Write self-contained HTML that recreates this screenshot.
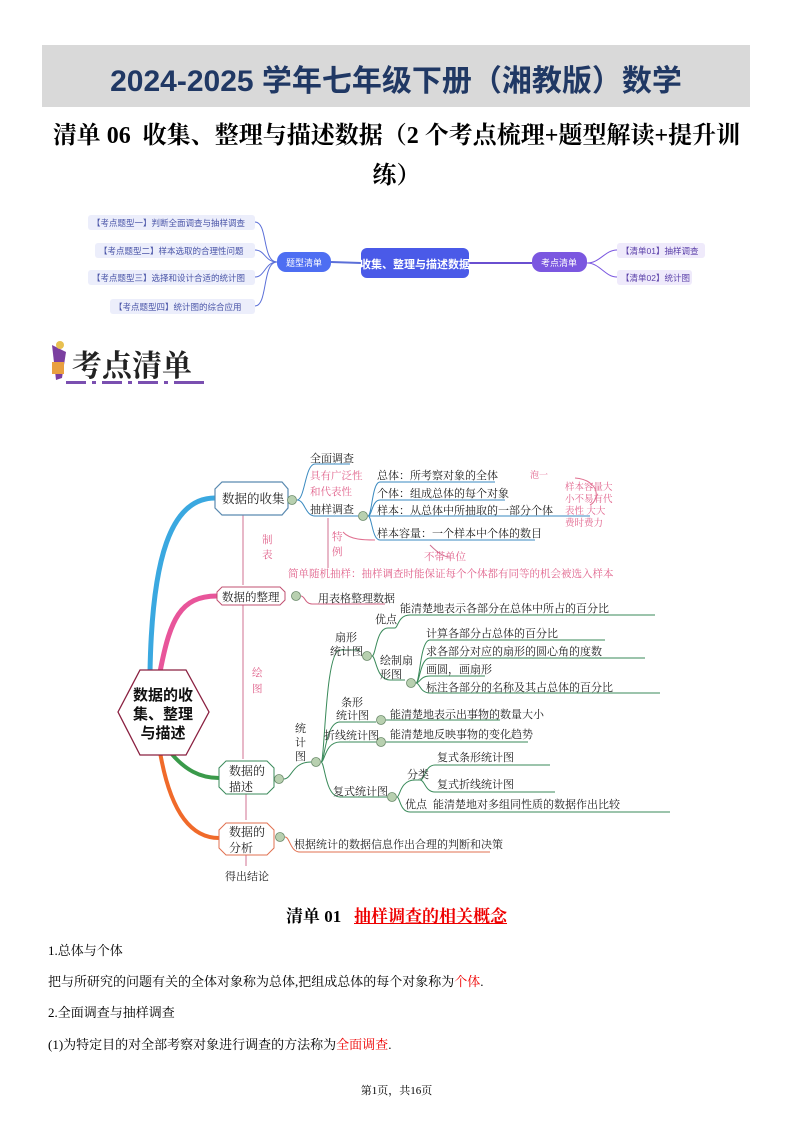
<!DOCTYPE html>
<html><head><meta charset="utf-8"><style>
body{margin:0;background:#fff;}
.pg{position:relative;width:793px;height:1122px;overflow:hidden;font-family:"Liberation Serif","Noto Serif CJK SC",serif;}
.a{position:absolute;white-space:nowrap;}
</style></head><body><div class="pg">
<div class="a" style="left:42px;top:45px;width:708px;height:62px;background:#d9d9d9;"></div>
<div class="a" style="left:42px;top:56px;width:708px;text-align:center;font:bold 30px 'Liberation Sans','Noto Sans CJK SC',sans-serif;color:#203864;">2024-2025 学年七年级下册（湘教版）数学</div>
<div class="a" style="left:0px;top:115px;width:793px;text-align:center;font:bold 24px 'Liberation Serif','Noto Serif CJK SC',serif;color:#000;">清单 06&nbsp; 收集、整理与描述数据（2 个考点梳理+题型解读+提升训</div>
<div class="a" style="left:0px;top:155px;width:793px;text-align:center;font:bold 24px 'Liberation Serif','Noto Serif CJK SC',serif;color:#000;">练）</div>

<svg class="a" style="left:0;top:0" width="793" height="1122" font-family="'Liberation Sans','Noto Sans CJK SC',sans-serif">
<g fill="none" stroke="#5b6fd8" stroke-width="1">
<path d="M255 222 C268 222,262 262,277 262"/><path d="M255 250 C265 250,265 262,277 262"/><path d="M255 277 C265 277,265 262,277 262"/><path d="M255 306 C268 306,262 262,277 262"/>
<path d="M331 262 L361 263" stroke-width="2"/>
<path d="M469 263 L532 263" stroke="#6a4fd0" stroke-width="2"/>
<path d="M587 263 C600 263,605 250,617 250" stroke="#7b57e0"/><path d="M587 263 C600 263,605 277,617 277" stroke="#7b57e0"/>
</g>
<g fill="#eceefb"><rect x="88" y="215" width="167" height="15" rx="3"/><rect x="95" y="243" width="160" height="15" rx="3"/><rect x="88" y="270" width="167" height="15" rx="3"/><rect x="110" y="299" width="145" height="15" rx="3"/>
<rect x="617" y="243" width="88" height="15" rx="3" fill="#efeafb"/><rect x="617" y="270" width="75" height="15" rx="3" fill="#efeafb"/></g>
<g font-size="8.5" fill="#4a55a8"><text x="92" y="226">【考点题型一】判断全面调查与抽样调查</text><text x="99" y="254">【考点题型二】样本选取的合理性问题</text><text x="92" y="281">【考点题型三】选择和设计合适的统计图</text><text x="114" y="310">【考点题型四】统计图的综合应用</text>
<text x="621" y="254" fill="#5a3fa8">【清单01】抽样调查</text><text x="621" y="281" fill="#5a3fa8">【清单02】统计图</text></g>
<rect x="277" y="252" width="54" height="20" rx="9" fill="#4e6ef2"/><text x="304" y="266" font-size="9" fill="#fff" text-anchor="middle">题型清单</text>
<rect x="361" y="248" width="108" height="30" rx="6" fill="#4a5ae8"/><text x="415" y="268" font-size="11" font-weight="bold" fill="#fff" text-anchor="middle">收集、整理与描述数据</text>
<rect x="532" y="252" width="55" height="20" rx="9" fill="#7b57e0"/><text x="559" y="266" font-size="9" fill="#fff" text-anchor="middle">考点清单</text>

<path d="M52 345 L66 352 L62 378 L56 380 Z" fill="#7b3fa0"/><circle cx="60" cy="345" r="4" fill="#e8c050"/><rect x="52" y="362" width="12" height="12" fill="#e9a040"/>
<text x="72" y="376" font-size="30" font-weight="bold" fill="#222" font-family="'Noto Serif CJK SC',serif">考点清单</text>
<g fill="#7a4fb0"><rect x="66" y="381" width="20" height="3"/><rect x="92" y="381" width="4" height="3"/><rect x="102" y="381" width="20" height="3"/><rect x="128" y="381" width="4" height="3"/><rect x="138" y="381" width="20" height="3"/><rect x="164" y="381" width="4" height="3"/><rect x="174" y="381" width="30" height="3"/></g>

<g fill="none">
<path d="M150 672 C152 560,170 498,215 498" stroke="#3aa8e0" stroke-width="5"/>
<path d="M160 672 C170 620,180 596,217 596" stroke="#e8559a" stroke-width="5"/>
<path d="M170 752 C185 770,200 778,219 778" stroke="#3a9a4a" stroke-width="4"/>
<path d="M160 752 C170 810,190 838,219 838" stroke="#f06a2a" stroke-width="4"/>
<g stroke="#d07090" stroke-width="1"><path d="M243 515 L243 585"/><path d="M243 605 L243 759"/><path d="M246 794 L246 820"/><path d="M246 855 L246 866"/><path d="M328 518 L328 568"/></g>
<g stroke="#3a8ac0" stroke-width="1"><path d="M297 500 C305 500,305 464,315 464 L350 464"/><path d="M297 500 C305 500,305 516,315 516 L358 516"/>
<path d="M368 516 C372 516,372 482,380 482 L495 482"/><path d="M368 516 C372 516,372 500,380 500 L505 500"/><path d="M368 516 L590 516"/><path d="M368 516 C372 516,372 540,380 540 L535 540"/></g>
<path d="M301 596 C305 596,305 604,312 604 L385 604" stroke="#d06080"/>
<g stroke="#3a8a5a" stroke-width="1">
<path d="M284 779 C292 779,292 762,311 762"/>
<path d="M321 762 C325 762,325 650,340 650 L360 650"/><path d="M321 762 C325 762,325 722,340 722 L376 722"/><path d="M321 762 C325 762,325 742,340 742 L376 742"/><path d="M321 762 C325 762,325 797,340 797 L387 797"/>
<path d="M372 656 C376 656,376 628,388 628 L395 628 C398 628,398 615,410 615 L655 615"/>
<path d="M372 656 C376 656,376 680,390 680 L405 680"/>
<path d="M416 683 C420 683,420 640,430 640 L605 640"/><path d="M416 683 C420 683,420 658,430 658 L645 658"/><path d="M416 683 C420 683,420 676,430 676 L485 676"/><path d="M416 683 C420 683,420 693,430 693 L660 693"/>
<path d="M386 720 L500 720"/><path d="M386 742 L528 742"/>
<path d="M397 797 C400 797,400 780,415 780 L420 780 C425 780,425 765,435 765 L550 765"/><path d="M420 780 C425 780,425 792,435 792 L555 792"/>
<path d="M397 797 C400 797,400 812,410 812 L670 812"/></g>
<path d="M285 837 C290 837,290 852,300 852 L490 852" stroke="#e07050"/>
<path d="M590 505 C600 500,600 480,575 478" stroke="#e07090"/><path d="M343 532 C350 540,365 540,375 540" stroke="#e07090"/><path d="M430 545 C440 555,445 557,450 557" stroke="#d07090"/>
</g>
<path d="M222 482 L282 482 L288 489 L288 508 L282 515 L222 515 L215 508 L215 489 Z" fill="#fff" stroke="#5a8ab0" stroke-width="1.2"/>
<path d="M222 587 L280 587 L285 592 L285 600 L280 605 L222 605 L217 600 L217 592 Z" fill="#fff" stroke="#c05070"/>
<path d="M226 761 L267 761 L274 768 L274 787 L267 794 L226 794 L219 787 L219 768 Z" fill="#fff" stroke="#3a8a5a"/>
<path d="M226 823 L267 823 L274 830 L274 848 L267 855 L226 855 L219 848 L219 830 Z" fill="#fff" stroke="#e07050"/>
<path d="M140 670 L186 670 L209 712 L186 755 L140 755 L118 712 Z" fill="#fff" stroke="#8a2040" stroke-width="1.3"/>
<g font-size="15" font-weight="bold" fill="#111" text-anchor="middle"><text x="163" y="700">数据的收</text><text x="163" y="719">集、整理</text><text x="163" y="738">与描述</text></g>
<g fill="#b8d0b0" stroke="#6a8a6a" stroke-width="0.8"><circle cx="292" cy="500" r="4.5"/><circle cx="363" cy="516" r="4.5"/><circle cx="296" cy="596" r="4.5"/><circle cx="367" cy="656" r="4.5"/><circle cx="411" cy="683" r="4.5"/><circle cx="381" cy="720" r="4.5"/><circle cx="381" cy="742" r="4.5"/><circle cx="316" cy="762" r="4.5"/><circle cx="279" cy="779" r="4.5"/><circle cx="392" cy="797" r="4.5"/><circle cx="280" cy="837" r="4.5"/></g>
<g font-family="'Noto Serif CJK SC',serif" font-size="11" fill="#222">
<text x="222" y="503" font-size="12.5">数据的收集</text><text x="222" y="601" font-size="11.5">数据的整理</text>
<text x="229" y="775" font-size="12">数据的</text><text x="229" y="791" font-size="12">描述</text><text x="229" y="836" font-size="12">数据的</text><text x="229" y="852" font-size="12">分析</text>
<text x="310" y="462">全面调查</text><text x="310" y="513">抽样调查</text>
<text x="377" y="479">总体：所考察对象的全体</text><text x="377" y="497">个体：组成总体的每个对象</text><text x="377" y="514">样本：从总体中所抽取的一部分个体</text><text x="377" y="537">样本容量：一个样本中个体的数目</text>
<text x="318" y="602">用表格整理数据</text>
<text x="375" y="623">优点</text><text x="400" y="612">能清楚地表示各部分在总体中所占的百分比</text>
<text x="335" y="641">扇形</text><text x="330" y="655">统计图</text>
<text x="426" y="637">计算各部分占总体的百分比</text><text x="426" y="655">求各部分对应的扇形的圆心角的度数</text><text x="426" y="673">画圆，画扇形</text><text x="426" y="691">标注各部分的名称及其占总体的百分比</text>
<text x="380" y="664">绘制扇</text><text x="380" y="678">形图</text>
<text x="341" y="706">条形</text><text x="336" y="719">统计图</text><text x="390" y="718">能清楚地表示出事物的数量大小</text>
<text x="324" y="739">折线统计图</text><text x="390" y="738">能清楚地反映事物的变化趋势</text>
<text x="295" y="732">统</text><text x="295" y="746">计</text><text x="295" y="760">图</text>
<text x="333" y="795">复式统计图</text><text x="407" y="778">分类</text><text x="437" y="761">复式条形统计图</text><text x="437" y="788">复式折线统计图</text>
<text x="405" y="808">优点</text><text x="433" y="808">能清楚地对多组同性质的数据作出比较</text>
<text x="294" y="848">根据统计的数据信息作出合理的判断和决策</text>
<text x="225" y="880">得出结论</text>
</g>
<g font-family="'Noto Serif CJK SC',serif" font-size="10.5" fill="#e0608a">
<text x="310" y="479">具有广泛性</text><text x="310" y="495">和代表性</text>
<text x="262" y="543">制</text><text x="262" y="558">表</text><text x="332" y="540">特</text><text x="332" y="555">例</text>
<text x="252" y="676">绘</text><text x="252" y="692">图</text>
<text x="424" y="560">不带单位</text>
<text x="288" y="577">简单随机抽样：抽样调查时能保证每个个体都有同等的机会被选入样本</text>
<text x="565" y="490" font-size="9.5">样本容量大</text><text x="565" y="502" font-size="9.5">小不易有代</text><text x="565" y="514" font-size="9.5">表性  大大</text><text x="565" y="526" font-size="9.5">费时费力</text>
<text x="530" y="478" font-size="9">泡一</text>
</g>
</svg>

<div class="a" style="left:0;top:902px;width:793px;text-align:center;font:bold 17px 'Liberation Serif','Noto Serif CJK SC',serif;">清单 01&nbsp;&nbsp; <span style="color:#e00;text-decoration:underline;">抽样调查的相关概念</span></div>
<div class="a" style="left:48px;top:940px;font-size:13px;">1.总体与个体</div>
<div class="a" style="left:48px;top:971px;font-size:13px;">把与所研究的问题有关的全体对象称为总体,把组成总体的每个对象称为<span style="color:#e00">个体</span>.</div>
<div class="a" style="left:48px;top:1002px;font-size:13px;">2.全面调查与抽样调查</div>
<div class="a" style="left:48px;top:1034px;font-size:13px;">(1)为特定目的对全部考察对象进行调查的方法称为<span style="color:#e00">全面调查</span>.</div>
<div class="a" style="left:0;top:1082px;width:793px;text-align:center;font-size:11px;">第1页，共16页</div>
</div></body></html>
